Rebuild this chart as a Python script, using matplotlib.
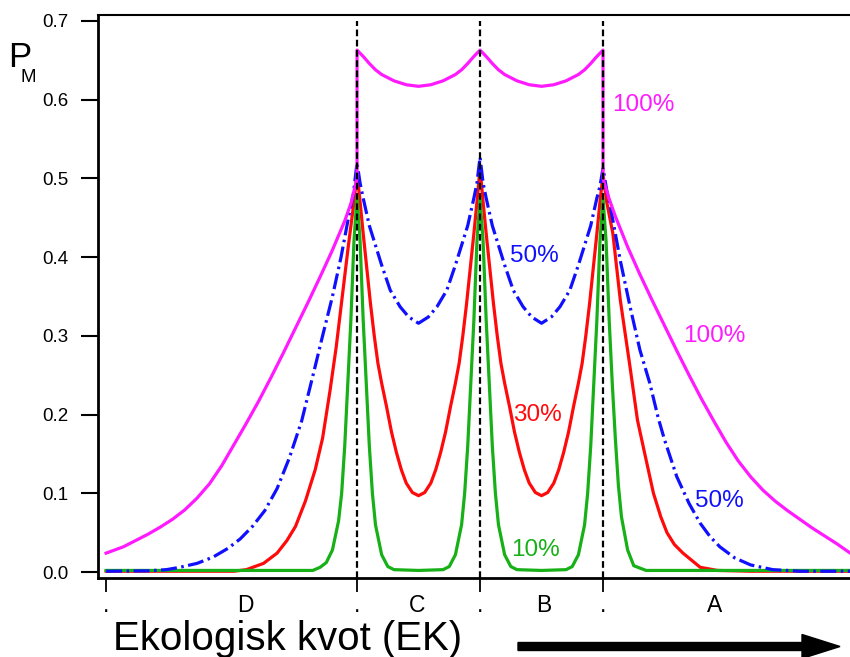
import matplotlib
matplotlib.use("Agg")
import matplotlib.pyplot as plt
from matplotlib.patches import FancyArrow
import matplotlib.transforms as mtransforms

plt.rcParams['font.family'] = ['Liberation Sans', 'DejaVu Sans']

# ---------------- data ----------------
# x axis: ecological quotient in arbitrary units; class boundaries at 2, 3, 4
boundaries = [2.0, 3.0, 4.0]
tick_positions = [-0.04, 2.0, 3.0, 4.0]
tick_labels = [".", ".", ".", "."]
class_names = ["D", "C", "B", "A"]
class_positions = [1.09, 2.49, 3.52, 4.91]
y_ticks = [0.0, 0.1, 0.2, 0.3, 0.4, 0.5, 0.6, 0.7]

# 100 %
mag_x = [-0.04, 0.10, 0.20, 0.30, 0.40, 0.50, 0.60, 0.70, 0.80, 0.90,
         1.00, 1.10, 1.20, 1.30, 1.40, 1.50, 1.60, 1.70, 1.80, 1.90,
         1.95, 2.00, 2.00, 2.05, 2.10, 2.15, 2.20, 2.30, 2.40, 2.50,
         2.60, 2.70, 2.80, 2.85, 2.90, 2.95, 3.00, 3.05, 3.10, 3.15,
         3.20, 3.30, 3.40, 3.50, 3.60, 3.70, 3.80, 3.85, 3.90, 3.95,
         4.00, 4.00, 4.05, 4.10, 4.20, 4.30, 4.40, 4.50, 4.60, 4.70,
         4.80, 4.90, 5.00, 5.10, 5.20, 5.30, 5.40, 5.50, 5.60, 5.70,
         5.80, 5.90, 6.01]
mag_y = [0.024, 0.032, 0.040, 0.048, 0.057, 0.067, 0.079, 0.094, 0.112, 0.135,
         0.162, 0.189, 0.217, 0.247, 0.278, 0.310, 0.342, 0.375, 0.409, 0.446,
         0.468, 0.500, 0.663, 0.655, 0.646, 0.638, 0.632, 0.624, 0.619, 0.617,
         0.619, 0.624, 0.632, 0.638, 0.646, 0.655, 0.663, 0.655, 0.646, 0.638,
         0.632, 0.624, 0.619, 0.617, 0.619, 0.624, 0.632, 0.638, 0.646, 0.655,
         0.663, 0.500, 0.474, 0.452, 0.413, 0.378, 0.345, 0.313, 0.281, 0.250,
         0.220, 0.192, 0.165, 0.141, 0.121, 0.104, 0.090, 0.078, 0.067, 0.056,
         0.046, 0.036, 0.024]

# 50 %
blue_x = [-0.04, 0.30, 0.45, 0.56, 0.70, 0.83, 0.95, 1.05, 1.15, 1.25,
          1.35, 1.45, 1.55, 1.65, 1.72, 1.80, 1.87, 1.93, 1.97, 2.00,
          2.025, 2.05, 2.10, 2.15, 2.20, 2.27, 2.35, 2.42, 2.50, 2.58,
          2.65, 2.73, 2.80, 2.85, 2.90, 2.95, 2.975, 3.00, 3.025, 3.05,
          3.10, 3.15, 3.20, 3.27, 3.35, 3.42, 3.50, 3.58, 3.65, 3.73,
          3.80, 3.85, 3.90, 3.95, 3.975, 4.00, 4.03, 4.06, 4.14, 4.22,
          4.30, 4.38, 4.45, 4.50, 4.60, 4.70, 4.79, 4.87, 4.95, 5.07,
          5.20, 5.38, 5.60, 6.01]
blue_y = [0.001, 0.0015, 0.003, 0.006, 0.011, 0.019, 0.030, 0.042, 0.058, 0.078,
          0.106, 0.145, 0.192, 0.255, 0.300, 0.350, 0.400, 0.450, 0.480, 0.520,
          0.494, 0.475, 0.440, 0.415, 0.390, 0.358, 0.337, 0.324, 0.316, 0.324,
          0.337, 0.358, 0.390, 0.415, 0.440, 0.475, 0.494, 0.527, 0.494, 0.475,
          0.440, 0.415, 0.390, 0.358, 0.337, 0.324, 0.316, 0.324, 0.337, 0.358,
          0.390, 0.415, 0.440, 0.475, 0.490, 0.513, 0.485, 0.464, 0.396, 0.337,
          0.282, 0.240, 0.195, 0.168, 0.121, 0.087, 0.062, 0.045, 0.032, 0.018,
          0.009, 0.003, 0.001, 0.001]

# 30 %
red_x = [-0.04, 1.00, 1.10, 1.24, 1.35, 1.43, 1.50, 1.58, 1.66, 1.72,
         1.78, 1.83, 1.88, 1.93, 1.975, 2.00, 2.025, 2.05, 2.08, 2.11,
         2.14, 2.17, 2.20, 2.24, 2.28, 2.32, 2.36, 2.40, 2.45, 2.50,
         2.55, 2.60, 2.64, 2.68, 2.72, 2.76, 2.80, 2.83, 2.86, 2.89,
         2.92, 2.95, 2.975, 3.00, 3.025, 3.05, 3.08, 3.11, 3.14, 3.17,
         3.20, 3.24, 3.28, 3.32, 3.36, 3.40, 3.45, 3.50, 3.55, 3.60,
         3.64, 3.68, 3.72, 3.76, 3.80, 3.83, 3.86, 3.89, 3.92, 3.95,
         3.975, 4.00, 4.03, 4.08, 4.14, 4.22, 4.28, 4.33, 4.41, 4.47,
         4.52, 4.58, 4.65, 4.79, 4.93, 5.20, 6.01]
red_y = [0.001, 0.001, 0.003, 0.011, 0.024, 0.040, 0.058, 0.090, 0.130, 0.170,
         0.230, 0.285, 0.350, 0.415, 0.470, 0.507, 0.470, 0.430, 0.385, 0.340,
         0.300, 0.265, 0.240, 0.210, 0.178, 0.152, 0.130, 0.113, 0.101, 0.097,
         0.101, 0.113, 0.130, 0.152, 0.178, 0.210, 0.240, 0.265, 0.300, 0.340,
         0.385, 0.430, 0.470, 0.513, 0.470, 0.430, 0.385, 0.340, 0.300, 0.265,
         0.240, 0.210, 0.178, 0.152, 0.130, 0.113, 0.101, 0.097, 0.101, 0.113,
         0.130, 0.152, 0.178, 0.210, 0.240, 0.265, 0.300, 0.340, 0.385, 0.430,
         0.470, 0.505, 0.470, 0.430, 0.346, 0.260, 0.193, 0.157, 0.100, 0.070,
         0.050, 0.035, 0.024, 0.006, 0.002, 0.001, 0.001]

# 10 %
green_x = [-0.04, 1.50, 1.64, 1.70, 1.75, 1.80, 1.85, 1.875, 1.90, 1.925,
           1.95, 1.975, 2.00, 2.025, 2.05, 2.075, 2.10, 2.125, 2.15, 2.20,
           2.25, 2.30, 2.50, 2.70, 2.75, 2.80, 2.85, 2.875, 2.90, 2.925,
           2.95, 2.975, 3.00, 3.025, 3.05, 3.075, 3.10, 3.125, 3.15, 3.20,
           3.25, 3.30, 3.50, 3.70, 3.75, 3.80, 3.85, 3.875, 3.90, 3.925,
           3.95, 3.975, 4.00, 4.025, 4.05, 4.075, 4.10, 4.125, 4.15, 4.20,
           4.25, 4.35, 6.01]
green_y = [0.002, 0.002, 0.002, 0.006, 0.012, 0.028, 0.065, 0.100, 0.160, 0.240,
           0.320, 0.420, 0.478, 0.420, 0.320, 0.240, 0.160, 0.100, 0.060, 0.022,
           0.007, 0.003, 0.002, 0.003, 0.007, 0.022, 0.060, 0.100, 0.160, 0.240,
           0.320, 0.420, 0.475, 0.420, 0.320, 0.240, 0.160, 0.100, 0.060, 0.022,
           0.007, 0.003, 0.002, 0.003, 0.007, 0.022, 0.060, 0.100, 0.160, 0.240,
           0.320, 0.420, 0.475, 0.420, 0.320, 0.240, 0.170, 0.110, 0.070, 0.028,
           0.008, 0.002, 0.002]

# curve labels: (text, x, baseline y, colour)
curve_labels = [
    ("100%", 4.07, 0.586, "#ff1aff"),
    ("100%", 4.65, 0.292, "#ff1aff"),
    ("50%", 3.24, 0.394, "#1010ff"),
    ("50%", 4.75, 0.083, "#1010ff"),
    ("30%", 3.27, 0.192, "#ff0a0a"),
    ("10%", 3.25, 0.020, "#17b017"),
]

# ---------------- figure ----------------
W, H = 850, 657
fig = plt.figure(figsize=(W / 100, H / 100), dpi=100)
ax = fig.add_axes([98 / W, 79 / H, 752 / W, 563 / H])

ax.plot(red_x, red_y, color="#ff0a0a", lw=2.3, solid_joinstyle="round", zorder=3)
ax.plot(green_x, green_y, color="#17b017", lw=2.3, solid_joinstyle="round", zorder=3)
ax.plot(blue_x, blue_y, color="#1010ff", lw=2.3, linestyle=(0, (5, 1.4, 0.8, 1.4)), zorder=4)
ax.plot(mag_x, mag_y, color="#ff1aff", lw=2.3, solid_joinstyle="round", zorder=5)

ax.vlines(boundaries, -0.0076, 0.70, colors="black", linestyles=(0, (3, 1.6)), lw=1.6, zorder=6)

ax.set_xlim(-0.106, 6.008)
ax.set_ylim(-0.0076, 0.7076)

ax.set_yticks(y_ticks)
ax.set_yticklabels([f"{v:.1f}" for v in y_ticks])
ax.tick_params(axis="y", direction="out", length=12.5, width=1.5, pad=9, labelsize=13.5)

ax.set_xticks(tick_positions)
ax.set_xticklabels([])
ax.tick_params(axis="x", direction="out", length=10, width=1.3)

for side in ["left", "bottom"]:
    ax.spines[side].set_linewidth(2.0)
ax.spines["top"].set_linewidth(1.5)
ax.spines["right"].set_visible(False)

trans = mtransforms.blended_transform_factory(ax.transData, ax.transAxes)
base = -34 / 563
for xp, lab in zip(tick_positions, tick_labels):
    ax.text(xp, base, lab, transform=trans, ha="center", va="baseline", fontsize=16.5)
for xp, lab in zip(class_positions, class_names):
    ax.text(xp, base, lab, transform=trans, ha="center", va="baseline", fontsize=16.5)

for txt, xp, yp, col in curve_labels:
    ax.text(xp, yp, txt, color=col, ha="left", va="baseline", fontsize=17.5, zorder=7)

# y label P_M
fig.text(8 / W, 1 - 67 / H, "P", fontsize=25, ha="left", va="baseline")
fig.text(21 / W, 1 - 82 / H, "M", fontsize=13.5, ha="left", va="baseline")

# x label
fig.text(113 / W, 1 - 650 / H, "Ekologisk kvot (EK)", fontsize=29, ha="left", va="baseline")

# arrow
arrow = FancyArrow(518 / W, 1 - 646.5 / H, (840 - 518) / W, 0,
                   width=8 / H, head_width=24 / H, head_length=38 / W,
                   length_includes_head=True, color="black",
                   transform=fig.transFigure, figure=fig)
fig.patches.append(arrow)

fig.savefig("out.png", dpi=100)
